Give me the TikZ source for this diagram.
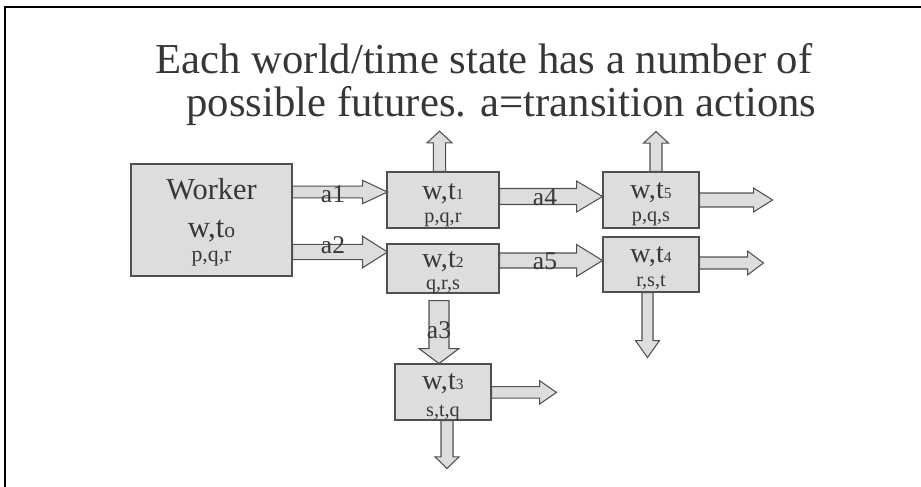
\documentclass[tikz,border=0pt]{standalone}
\usepackage{fontspec}
\setmainfont{Liberation Serif}
\usepackage{graphicx}
\usetikzlibrary{calc}

\definecolor{boxfill}{RGB}{221,221,221}
\definecolor{boxline}{RGB}{80,80,80}
\definecolor{ink}{RGB}{55,55,55}

\newlength{\pxu}\setlength{\pxu}{0.02cm}
\newcommand{\sub}[2][0.55]{\scalebox{#1}{#2}}
% start, angle, length, shaft half width, head half width, head length
\newcommand{\blockarrow}[6]{%
  \begin{scope}[shift={(#1)}, rotate=#2]
    \draw[arrowbox] (0,-#4) -- ({#3-#6},-#4) -- ({#3-#6},-#5) -- (#3,0)
      -- ({#3-#6},#5) -- ({#3-#6},#4) -- (0,#4) -- cycle;
  \end{scope}}

\tikzset{
  statebox/.style={draw=boxline, fill=boxfill, line width=0.6pt, inner sep=0pt},
  arrowbox/.style={draw=boxline, fill=boxfill, line width=0.6pt, line join=miter},
  titletext/.style={inner sep=0pt, text=ink, font=\fontsize{24.3}{28}\selectfont},
  bigtext/.style={inner sep=0pt, text=ink, font=\fontsize{16}{18}\selectfont},
  smalltext/.style={inner sep=0pt, text=ink, font=\fontsize{11.5}{13}\selectfont},
  labeltext/.style={inner sep=0pt, text=ink, font=\fontsize{14.5}{16}\selectfont},
}

\begin{document}
\begin{tikzpicture}[x=0.02cm, y=-0.02cm]
  \useasboundingbox (0,0) rectangle (921,487);
  % frame
  \draw[line width=1.1pt] (5,487) -- (5,7) -- (921,7);

  % title
  \node[titletext, anchor=base] (title1) at (484,73) {Each world/time state has a number of};
  \node[titletext, anchor=base] (title2) at (501.5,116) {possible futures. a=transition actions};

  % states
  \node[statebox, minimum width=161*\pxu, minimum height=112*\pxu] (w0) at (211.5,220) {};
  \node[statebox, minimum width=112*\pxu, minimum height=56*\pxu] (t1) at (443,200) {};
  \node[statebox, minimum width=112*\pxu, minimum height=49*\pxu] (t2) at (443,268.5) {};
  \node[statebox, minimum width=96*\pxu, minimum height=56*\pxu] (t5) at (651,200) {};
  \node[statebox, minimum width=96*\pxu, minimum height=55*\pxu] (t4) at (651,264.5) {};
  \node[statebox, minimum width=96*\pxu, minimum height=56*\pxu] (t3) at (443,392) {};

  % transitions
  \blockarrow{w0.east |- 0,192}{0}{95}{5.8}{11.7}{25}
  \blockarrow{w0.east |- 0,252}{0}{95}{7.7}{15.8}{25}
  \blockarrow{t1.east |- 0,196.5}{0}{103}{8}{15.5}{26}
  \blockarrow{t2.east |- 0,260.5}{0}{103}{7.5}{16}{26}
  \blockarrow{$(t2.south -| 439,0)+(0,7)$}{-90}{63}{10}{20}{15}
  \blockarrow{t1.north -| 439.5,0}{90}{40.3}{6.2}{12.5}{11.7}
  \blockarrow{t5.north -| 656,0}{90}{40}{6}{12.5}{11.7}
  \blockarrow{t5.east |- 0,200}{0}{73}{7}{12}{19}
  \blockarrow{t4.east |- 0,263}{0}{64}{6}{12}{16}
  \blockarrow{t4.south -| 647.5,0}{-90}{65}{5.5}{12}{17}
  \blockarrow{t3.east |- 0,392.4}{0}{65}{5.8}{11.7}{17}
  \blockarrow{t3.south -| 447,0}{-90}{48}{6}{12}{11.7}

  % state texts
  \node[bigtext, anchor=base, font=\fontsize{17.3}{20}\selectfont] (w0a) at ($(w0.north)+(0,36)$) {Worker};
  \node[bigtext, anchor=base, font=\fontsize{17.5}{20}\selectfont] (w0b) at ($(w0.north)+(0,74)$) {w,t\sub[0.7]{o}};
  \node[smalltext, anchor=base, font=\fontsize{12.4}{14}\selectfont] (w0c) at ($(w0.north)+(0,98)$) {p,q,r};
  \node[bigtext, anchor=base] (t1a) at ($(t1.north)+(0,28)$) {w,t\sub{1}};
  \node[smalltext, anchor=base] (t1b) at ($(t1.north)+(0,51)$) {p,q,r};
  \node[bigtext, anchor=base] (t2a) at ($(t2.north)+(0,24)$) {w,t\sub{2}};
  \node[smalltext, anchor=base] (t2b) at ($(t2.north)+(0,46)$) {q,r,s};
  \node[bigtext, anchor=base] (t5a) at ($(t5.north)+(0,27)$) {w,t\sub{5}};
  \node[smalltext, anchor=base] (t5b) at ($(t5.north)+(0,50)$) {p,q,s};
  \node[bigtext, anchor=base] (t4a) at ($(t4.north)+(0,26)$) {w,t\sub{4}};
  \node[smalltext, anchor=base] (t4b) at ($(t4.north)+(0,50)$) {r,s,t};
  \node[bigtext, anchor=base] (t3a) at ($(t3.north)+(0,26)$) {w,t\sub{3}};
  \node[smalltext, anchor=base] (t3b) at ($(t3.north)+(0,53)$) {s,t,q};

  % action labels
  \node[labeltext, anchor=base] (la1) at (333,202) {a1};
  \node[labeltext, anchor=base] (la2) at (333,253) {a2};
  \node[labeltext, anchor=base] (la4) at (545,205) {a4};
  \node[labeltext, anchor=base] (la5) at (545,269) {a5};
  \node[labeltext, anchor=base] (la3) at (439,338) {a3};
\end{tikzpicture}
\end{document}
